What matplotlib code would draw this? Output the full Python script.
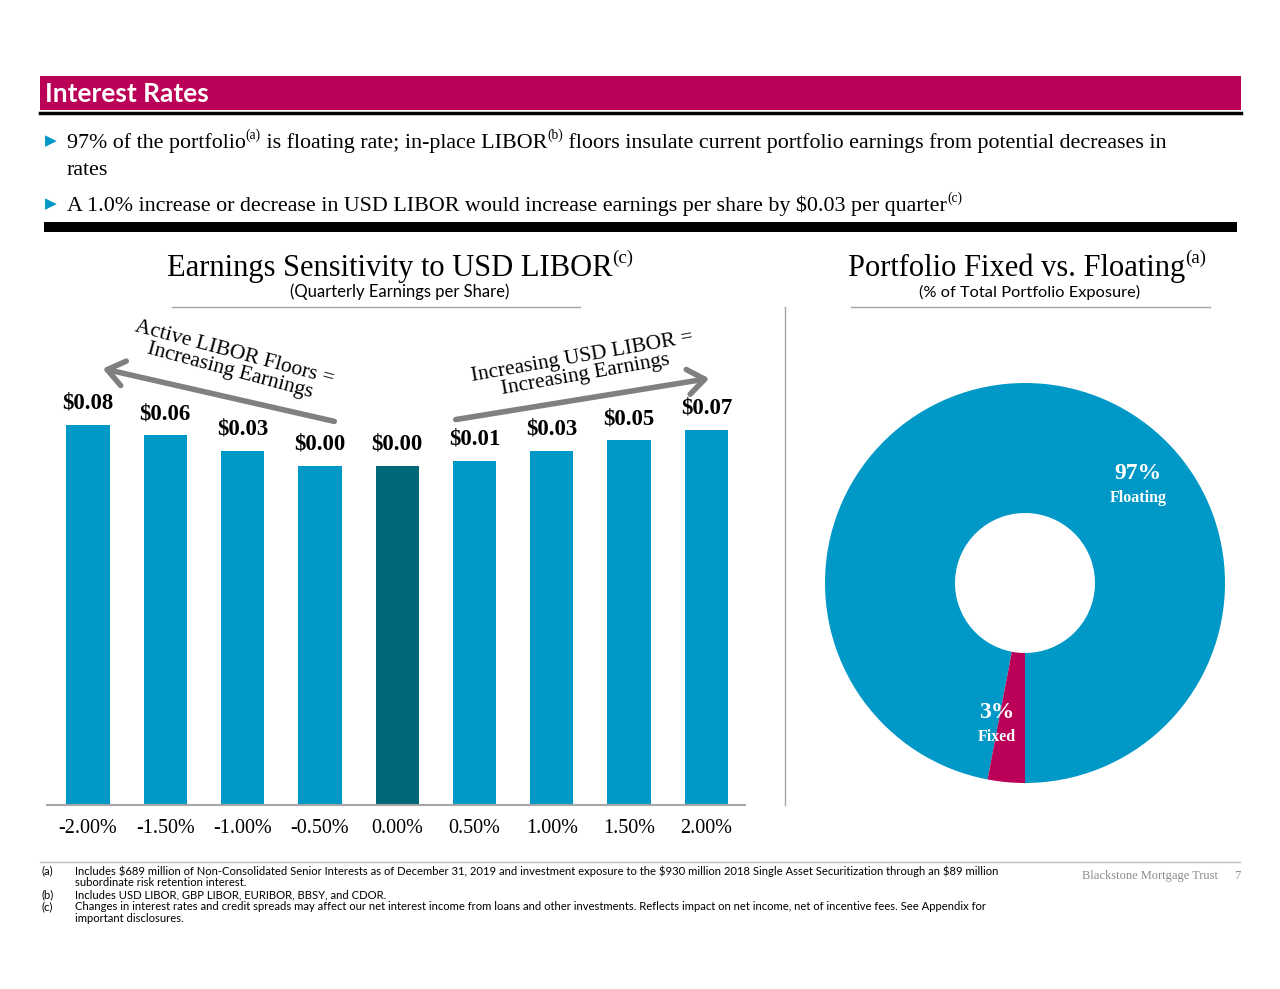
import matplotlib
matplotlib.use("Agg")
from matplotlib import pyplot as plt
from matplotlib.patches import Rectangle, FancyArrowPatch
from matplotlib.lines import Line2D
import numpy as np

# Earnings sensitivity: change in quarterly EPS for each LIBOR move
rate_moves = ["-2.00%", "-1.50%", "-1.00%", "-0.50%", "0.00%", "0.50%", "1.00%", "1.50%", "2.00%"]
eps_change = [0.08, 0.06, 0.03, 0.00, 0.00, 0.01, 0.03, 0.05, 0.07]
current_idx = 4  # today's rate, drawn darker

# Portfolio mix (% of total exposure)
mix_labels = ["Floating", "Fixed"]
mix_values = [97, 3]

footnotes = [
    ("(a)", "Includes $689 million of Non-Consolidated Senior Interests as of December 31, 2019 and investment exposure to the $930 million 2018 Single Asset Securitization through an $89 million"),
    ("", "subordinate risk retention interest."),
    ("(b)", "Includes USD LIBOR, GBP LIBOR, EURIBOR, BBSY, and CDOR."),
    ("(c)", "Changes in interest rates and credit spreads may affect our net interest income from loans and other investments. Reflects impact on net income, net of incentive fees. See Appendix for"),
    ("", "important disclosures."),
]

BLUE = "#0098c6"
TEAL = "#006879"
MAGENTA = "#bb0058"
GREY = "#808080"
SERIF = "Liberation Serif"
SANS = "Lato"

W, H = 1280, 989
fig = plt.figure(figsize=(12.8, 9.89), dpi=100)
renderer = fig.canvas.get_renderer()


def fx(x):
    return x / W


def fy(y):
    return 1 - y / H


def sup_text(x, y, parts, size, **kw):
    # draw pieces left to right, superscripts smaller and raised
    for s, sup in parts:
        sz = size * 0.62 if sup else size
        yy = y - (size * 1.389 * 0.42 if sup else 0)
        t = fig.text(fx(x), fy(yy), s, fontsize=sz, va="baseline", ha="left",
                     family=SERIF, parse_math=False, **kw)
        x += t.get_window_extent(renderer).width
    return x


# header band
fig.add_artist(Rectangle((fx(40), fy(110)), fx(1241) - fx(40), fy(76) - fy(110),
                         transform=fig.transFigure, color=MAGENTA, lw=0))
fig.add_artist(Line2D([fx(40), fx(1241)], [fy(113), fy(113)], transform=fig.transFigure,
                      color="black", lw=2.5))
fig.text(fx(45), fy(94), "Interest Rates", color="white", fontsize=19, fontweight="bold",
         family=SANS, va="center")

# bullets
for yb in (141, 204):
    fig.text(fx(45), fy(yb), "\u25B6", color=BLUE, fontsize=11, va="center", family="DejaVu Sans")
sup_text(67, 148, [("97% of the portfolio", False), ("(a)", True),
                   (" is floating rate; in-place LIBOR", False), ("(b)", True),
                   (" floors insulate current portfolio earnings from potential decreases in", False)],
         15.8)
sup_text(67, 175, [("rates", False)], 15.8)
sup_text(67, 211, [("A 1.0% increase or decrease in USD LIBOR would increase earnings per share by $0.03 per quarter", False),
                   ("(c)", True)], 15.8)
fig.add_artist(Rectangle((fx(44), fy(232)), fx(1237) - fx(44), fy(222) - fy(232),
                         transform=fig.transFigure, color="black", lw=0))

# panel titles
sup_text(167, 276, [("Earnings Sensitivity to USD LIBOR", False), ("(c)", True)], 22)
fig.text(fx(400), fy(292), "(Quarterly Earnings per Share)", fontsize=12, family=SANS,
         ha="center", va="center")
fig.add_artist(Line2D([fx(172), fx(580)], [fy(307), fy(307)], transform=fig.transFigure,
                      color="#a6a6a6", lw=1))
sup_text(848, 276, [("Portfolio Fixed vs. Floating", False), ("(a)", True)], 22)
fig.text(fx(1030), fy(292), "(% of Total Portfolio Exposure)", fontsize=11.8, family=SANS,
         ha="center", va="center")
fig.add_artist(Line2D([fx(851), fx(1210)], [fy(307), fy(307)], transform=fig.transFigure,
                      color="#a6a6a6", lw=1))
fig.add_artist(Line2D([fx(785), fx(785)], [fy(307), fy(805)], transform=fig.transFigure,
                      color="#a6a6a6", lw=1))

# bar chart -- bars start from an offset floor so a zero change still shows
floor = -0.662
ax = fig.add_axes([fx(47), fy(805), (745 - 47) / W, (805 - 300) / H])
x = np.arange(len(rate_moves))
colors = [TEAL if i == current_idx else BLUE for i in x]
vals = np.array(eps_change)
ax.bar(x, vals - floor, bottom=floor, width=0.56, color=colors)
for i, v in enumerate(vals):
    ax.annotate(f"${v:.2f}", (i, v), xytext=(0, 8), textcoords="offset points",
                ha="center", va="bottom", fontsize=16.5, fontweight="bold", family=SERIF,
                parse_math=False)
ax.set_xlim(-0.53, 8.5)
ax.set_ylim(floor, 0.324)
ax.set_xticks(x, rate_moves, family=SERIF, fontsize=14.5)
ax.tick_params(axis="x", length=0, pad=10)
ax.set_yticks([])
for s in ("top", "right", "left"):
    ax.spines[s].set_visible(False)
ax.spines["bottom"].set_color("#a6a6a6")
ax.spines["bottom"].set_linewidth(1.5)

# arrows and callouts
for a, b in (((337, 422), (100, 368)), ((453, 420), (712, 378))):
    fig.add_artist(FancyArrowPatch((fx(a[0]), fy(a[1])), (fx(b[0]), fy(b[1])),
                                   transform=fig.transFigure, arrowstyle="->,head_length=0.6,head_width=0.45",
                                   mutation_scale=20, lw=4, color=GREY))
fig.text(fx(232), fy(362), "Active LIBOR Floors =\nIncreasing Earnings", rotation=-15,
         rotation_mode="anchor", ha="center", va="center", multialignment="center",
         fontsize=15.5, family=SERIF, linespacing=0.95)
fig.text(fx(584), fy(366), "Increasing USD LIBOR =\nIncreasing Earnings", rotation=10,
         rotation_mode="anchor", ha="center", va="center", multialignment="center",
         fontsize=15.5, family=SERIF, linespacing=0.95)

# donut
ax2 = fig.add_axes([fx(825), fy(783), 400 / W, 400 / H])
ax2.pie(mix_values, colors=[BLUE, MAGENTA], startangle=270, counterclock=True, radius=1,
        wedgeprops=dict(width=0.65, linewidth=0))
ax2.set_xlim(-1, 1)
ax2.set_ylim(-1, 1)
ax2.set_aspect("equal")
ax2.axis("off")
label_pos = [(0.565, 0.55), (-0.14, -0.645)]
for (lx, ly), name, v in zip(label_pos, mix_labels, mix_values):
    ax2.text(lx, ly, f"{v}%", color="white", fontsize=17, fontweight="bold", family=SERIF,
             ha="center", va="center")
    ax2.text(lx, ly - 0.125, name, color="white", fontsize=11.5, fontweight="bold", family=SERIF,
             ha="center", va="center")

# footer
fig.add_artist(Line2D([fx(40), fx(1240)], [fy(862), fy(862)], transform=fig.transFigure,
                      color="#bfbfbf", lw=1))
for (tag, line), yl in zip(footnotes, (871, 882, 895, 907, 918)):
    if tag:
        fig.text(fx(42), fy(yl), tag, fontsize=8.1, family=SANS, va="center")
    fig.text(fx(75), fy(yl), line, fontsize=8.1, family=SANS, va="center", parse_math=False)
fig.text(fx(1218), fy(876), "Blackstone Mortgage Trust", fontsize=9, family=SERIF,
         color="#8c8c8c", ha="right", va="center")
fig.text(fx(1237), fy(876), "7", fontsize=9, family=SERIF, color="#8c8c8c", ha="center", va="center")

fig.savefig("out.png", dpi=100)
